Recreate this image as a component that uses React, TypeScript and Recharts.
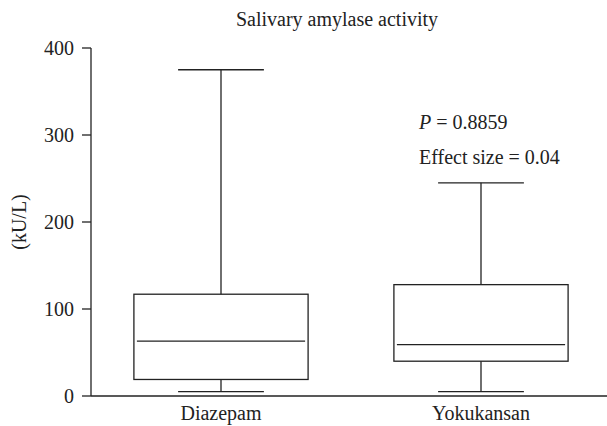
import { Bar, ComposedChart, XAxis, YAxis } from "recharts";

const groups = ["Diazepam", "Yokukansan"];
const minValues = [5, 5];
const q1Values = [19, 40];
const medianValues = [63, 59];
const q3Values = [117, 128];
const maxValues = [375, 245];
const yTicks = [0, 100, 200, 300, 400];

const data = groups.map((name, i) => ({
  name,
  min: minValues[i],
  q1: q1Values[i],
  median: medianValues[i],
  q3: q3Values[i],
  max: maxValues[i],
  range: [minValues[i], maxValues[i]],
}));

const FONT = "'Liberation Serif', 'Times New Roman', serif";
const INK = "#222";
const FS = 20;

// box drawn inside the [min, max] range bar; inner values mapped linearly
function BoxShape(props: any) {
  const { x, y, width, height, payload } = props;
  const top = Math.min(y, y + height);
  const bottom = Math.max(y, y + height);
  const span = payload.max - payload.min;
  const toPx = (v: number) => bottom - ((v - payload.min) / span) * (bottom - top);
  const cx = x + width / 2;
  const boxW = width * 0.67;
  const capW = width * 0.33;
  const yMin = toPx(payload.min);
  const yQ1 = toPx(payload.q1);
  const yMed = toPx(payload.median);
  const yQ3 = toPx(payload.q3);
  const yMax = toPx(payload.max);
  return (
    <g stroke={INK} strokeWidth={1.3} fill="none">
      <line x1={cx} x2={cx} y1={yMax} y2={yQ3} />
      <line x1={cx} x2={cx} y1={yQ1} y2={yMin} />
      <line x1={cx - capW / 2} x2={cx + capW / 2} y1={yMax} y2={yMax} />
      <line x1={cx - capW / 2} x2={cx + capW / 2} y1={yMin} y2={yMin} />
      <rect x={cx - boxW / 2} y={yQ3} width={boxW} height={yQ1 - yQ3} />
      <line x1={cx - boxW / 2 + 3} x2={cx + boxW / 2 - 3} y1={yMed} y2={yMed} />
    </g>
  );
}

export default function App() {
  const tickStyle = { fill: INK, fontSize: FS, fontFamily: FONT };
  return (
    <div
      style={{
        position: "absolute",
        left: 0,
        top: 0,
        width: 607,
        height: 426,
        overflow: "hidden",
        background: "#fff",
        fontFamily: FONT,
      }}
    >
      <ComposedChart
        width={611}
        height={426}
        data={data}
        margin={{ top: 48, right: 0, bottom: 0, left: 0 }}
        barCategoryGap={0}
      >
        <XAxis
          dataKey="name"
          height={30}
          tickLine={false}
          tickSize={0}
          tickMargin={10}
          axisLine={{ stroke: INK, strokeWidth: 1.3 }}
          tick={tickStyle}
        />
        <YAxis
          width={91}
          domain={[0, 400]}
          ticks={yTicks}
          tickSize={9}
          tickMargin={8}
          axisLine={{ stroke: INK, strokeWidth: 1.3 }}
          tickLine={{ stroke: INK, strokeWidth: 1.3 }}
          tick={tickStyle}
          label={{
            value: "(kU/L)",
            angle: -90,
            position: "center",
            dx: -27,
            style: { fill: INK, fontSize: FS, fontFamily: FONT },
          }}
        />
        <Bar dataKey="range" shape={<BoxShape />} isAnimationActive={false} />
      </ComposedChart>
      <svg width={607} height={426} style={{ position: "absolute", left: 0, top: 0, pointerEvents: "none" }}>
        <g fill={INK} fontFamily={FONT} fontSize={FS}>
          <text x={337} y={26} textAnchor="middle">Salivary amylase activity</text>
          <text x={419} y={129}>
            <tspan fontStyle="italic">P</tspan> = 0.8859
          </text>
          <text x={419} y={164}>Effect size = 0.04</text>
        </g>
      </svg>
    </div>
  );
}
